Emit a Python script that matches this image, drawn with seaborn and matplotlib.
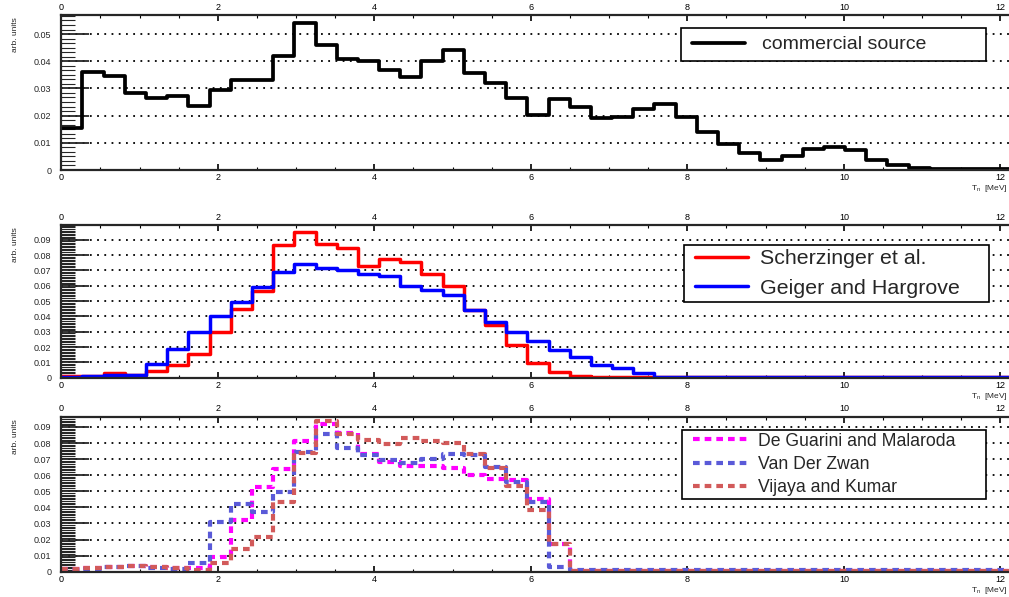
import numpy as np
import pandas as pd
import matplotlib
matplotlib.use('Agg')
import matplotlib.pyplot as plt
import matplotlib.ticker as mticker
from matplotlib.lines import Line2D
from matplotlib.legend_handler import HandlerLine2D
import seaborn as sns

# binning shared by all three spectra (45 bins, ~0.27 MeV wide)
bin_width = 0.2707
n_bins = 45
edges = np.arange(n_bins + 1) * bin_width
centers = edges[:-1] + bin_width / 2

# top panel
commercial = [0.0154, 0.0361, 0.0345, 0.0282, 0.0263, 0.0271, 0.0237, 0.0296, 0.0330, 0.0330,
              0.0419, 0.0539, 0.0458, 0.0407, 0.0401, 0.0368, 0.0342, 0.0399, 0.0441, 0.0356,
              0.0319, 0.0263, 0.0203, 0.0260, 0.0230, 0.0193, 0.0194, 0.0226, 0.0244, 0.0196,
              0.0141, 0.0095, 0.0062, 0.0037, 0.0053, 0.0076, 0.0083, 0.0073, 0.0038, 0.0020,
              0.0006, 0.0003, 0.0003, 0.0002, 0.0002]

# middle panel
scherzinger = [0.0010, 0.0012, 0.0028, 0.0015, 0.0046, 0.0080, 0.0152, 0.0296, 0.0446, 0.0567,
               0.0865, 0.0952, 0.0870, 0.0848, 0.0728, 0.0772, 0.0757, 0.0674, 0.0600, 0.0441,
               0.0343, 0.0213, 0.0093, 0.0035, 0.0011, 0.0004, 0.0002, 0.0002, 0.0002, 0.0002,
               0.0002, 0.0002, 0.0002, 0.0002, 0.0002, 0.0002, 0.0002, 0.0002, 0.0002, 0.0002,
               0.0002, 0.0002, 0.0002, 0.0002, 0.0002]
geiger = [0.0005, 0.0010, 0.0015, 0.0015, 0.0089, 0.0185, 0.0300, 0.0404, 0.0496, 0.0593,
          0.0689, 0.0741, 0.0713, 0.0704, 0.0678, 0.0663, 0.0598, 0.0572, 0.0539, 0.0441,
          0.0365, 0.0300, 0.0239, 0.0178, 0.0133, 0.0083, 0.0061, 0.0028, 0.0004, 0.0002,
          0.0002, 0.0002, 0.0002, 0.0002, 0.0002, 0.0002, 0.0002, 0.0002, 0.0002, 0.0002,
          0.0002, 0.0002, 0.0002, 0.0002, 0.0002]

# bottom panel
de_guarini = [0.0015, 0.0020, 0.0030, 0.0035, 0.0030, 0.0020, 0.0020, 0.0093, 0.0321, 0.0524,
              0.0636, 0.0810, 0.0920, 0.0860, 0.0735, 0.0681, 0.0658, 0.0655, 0.0643, 0.0600,
              0.0575, 0.0569, 0.0452, 0.0172, 0.0005, 0.0005, 0.0005, 0.0005, 0.0005, 0.0005,
              0.0005, 0.0005, 0.0005, 0.0005, 0.0005, 0.0005, 0.0005, 0.0005, 0.0005, 0.0005,
              0.0005, 0.0005, 0.0005, 0.0005, 0.0005]
van_der_zwan = [0.0010, 0.0015, 0.0030, 0.0035, 0.0025, 0.0015, 0.0052, 0.0311, 0.0420, 0.0372,
                0.0498, 0.0743, 0.0857, 0.0772, 0.0728, 0.0697, 0.0674, 0.0700, 0.0732, 0.0726,
                0.0650, 0.0555, 0.0435, 0.0031, 0.0008, 0.0008, 0.0008, 0.0008, 0.0008, 0.0008,
                0.0008, 0.0008, 0.0008, 0.0008, 0.0008, 0.0008, 0.0008, 0.0008, 0.0008, 0.0008,
                0.0008, 0.0008, 0.0008, 0.0008, 0.0008]
vijaya = [0.0015, 0.0020, 0.0030, 0.0035, 0.0028, 0.0020, 0.0010, 0.0052, 0.0139, 0.0213,
          0.0435, 0.0736, 0.0937, 0.0855, 0.0822, 0.0797, 0.0832, 0.0812, 0.0800, 0.0729,
          0.0648, 0.0534, 0.0383, 0.0170, 0.0005, 0.0005, 0.0005, 0.0005, 0.0005, 0.0005,
          0.0005, 0.0005, 0.0005, 0.0005, 0.0005, 0.0005, 0.0005, 0.0005, 0.0005, 0.0005,
          0.0005, 0.0005, 0.0005, 0.0005, 0.0005]

sns.set_style('ticks')
plt.rcParams['font.family'] = ['Liberation Sans', 'DejaVu Sans']
plt.rcParams['mathtext.fontset'] = 'custom'
plt.rcParams['mathtext.rm'] = 'Liberation Sans'

W, H = 1009, 597
fig = plt.figure(figsize=(W / 100, H / 100), dpi=100)


def px_axes(top, bottom):
    # left edge at x=0 -> 61 px, 78.25 px per MeV, frame runs past the image edge
    return fig.add_axes([61.3 / W, (H - bottom) / H, 954.7 / W, (bottom - top) / H])


def yfmt(v, pos):
    return '0' if abs(v) < 1e-9 else f'{v:.2f}'


def style(ax, ymax, yticks, nminor):
    ax.set_xlim(0, 12.2)
    ax.set_ylim(0, ymax)
    ax.xaxis.set_major_locator(mticker.MultipleLocator(2))
    ax.xaxis.set_minor_locator(mticker.MultipleLocator(0.5))
    ax.set_yticks(yticks)
    ax.yaxis.set_minor_locator(mticker.AutoMinorLocator(nminor))
    ax.yaxis.set_major_formatter(mticker.FuncFormatter(yfmt))
    ax.tick_params(axis='x', which='both', direction='in', top=True, labeltop=True,
                   labelsize=6.5, pad=2.5, colors='black')
    ax.tick_params(axis='x', which='major', length=4, width=1.2)
    ax.tick_params(axis='x', which='minor', length=2, width=0.8)
    ax.tick_params(axis='y', which='major', direction='in', length=20, width=1.3,
                   labelsize=6.5, pad=7)
    ax.tick_params(axis='y', which='minor', direction='in', length=10, width=0.8)
    ax.yaxis.grid(True, which='major', color='black', linestyle=(0, (1, 3)), linewidth=1.3)
    ax.xaxis.grid(False)
    for side in ['left', 'top', 'bottom']:
        ax.spines[side].set_linewidth(1.6)
    ax.set_ylabel('arb. units', fontsize=6, loc='top')
    ax.yaxis.set_label_coords(-0.044, 0.985)
    ax.set_xlabel(r'T$_{\mathrm{n}}$  [MeV]', fontsize=6, loc='right')
    ax.xaxis.set_label_coords(0.991, -0.085)


def step(ax, values, color, label, ls='-', lw=2.5):
    df = pd.DataFrame({'energy': centers, 'weight': values})
    sns.histplot(data=df, x='energy', weights='weight', bins=list(edges), element='step',
                 fill=False, color=color, linewidth=lw, linestyle=ls, ax=ax)
    line = ax.lines[-1]
    line.set_label(label)
    return line


def box_legend(ax, handles, x0, y0, width, fontsize, borderpad, labelspacing,
               xpad, handlelength, handletextpad):
    leg = ax.legend(handles=handles, loc='upper left', bbox_to_anchor=(x0, y0, width, 0.0),
                    mode='expand', fontsize=fontsize, frameon=True, fancybox=False,
                    edgecolor='black', framealpha=1, borderpad=borderpad,
                    labelspacing=labelspacing, handlelength=handlelength,
                    handletextpad=handletextpad, borderaxespad=0,
                    handler_map={Line2D: HandlerLine2D(xpad=xpad)})
    leg.get_frame().set_linewidth(1.2)
    return leg


# top: commercial source
ax1 = px_axes(15, 170)
h1 = [step(ax1, commercial, 'black', 'commercial source', lw=2.7)]
style(ax1, 0.057, np.arange(0, 0.051, 0.01), 6)
box_legend(ax1, h1, (681 - 61.3) / 954.7, (170 - 28) / 155, 305 / 954.7, 14,
           borderpad=0.4, labelspacing=0.3, xpad=0.15, handlelength=2.9, handletextpad=0.89)

# middle: Scherzinger vs Geiger
ax2 = px_axes(225, 377.7)
h2 = [step(ax2, scherzinger, '#ff0000', 'Scherzinger et al.'),
      step(ax2, geiger, '#0000ff', 'Geiger and Hargrove')]
style(ax2, 0.0996, np.arange(0, 0.091, 0.01), 10)
box_legend(ax2, h2, (684 - 61.3) / 954.7, (377.7 - 245) / 152.7, 305 / 954.7, 15.4,
           borderpad=0.2, labelspacing=0.48, xpad=0.33, handlelength=2.8, handletextpad=0.56)

# bottom: dashed models
ax3 = px_axes(416.7, 571.7)
dash = (0, (1.6, 1.2))
h3 = [step(ax3, de_guarini, '#ff00ff', 'De Guarini and Malaroda', ls=dash, lw=3),
      step(ax3, van_der_zwan, '#5a5ad8', 'Van Der Zwan', ls=dash, lw=3),
      step(ax3, vijaya, '#d25a5a', 'Vijaya and Kumar', ls=dash, lw=3)]
style(ax3, 0.0964, np.arange(0, 0.091, 0.01), 10)
box_legend(ax3, h3, (682 - 61.3) / 954.7, (571.7 - 430) / 155, 304 / 954.7, 12.7,
           borderpad=0.15, labelspacing=0.36, xpad=0.48, handlelength=3.55, handletextpad=0.625)

fig.savefig('out.png', dpi=100)
